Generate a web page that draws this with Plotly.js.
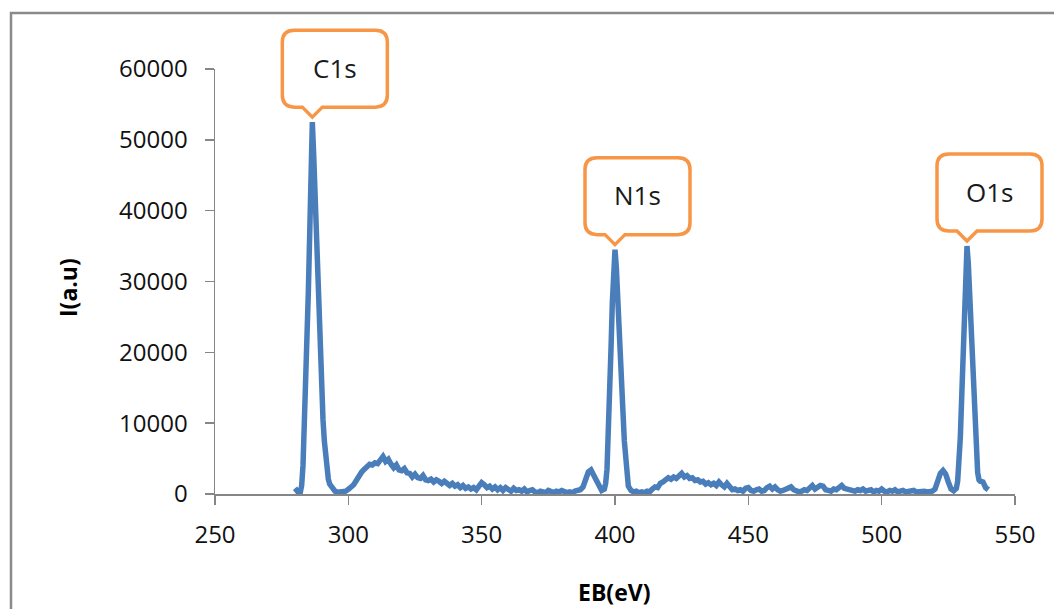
<!DOCTYPE html>
<html>
<head>
<meta charset="utf-8">
<script src="https://cdn.plot.ly/plotly-3.0.1.min.js"></script>
<style>html,body{margin:0;padding:0;background:#fff;}#chart{width:1054px;height:609px;}</style>
</head>
<body>
<div id="chart"></div>
<script>
// Binding energy (eV) and intensity (a.u.)
const energiesC1s = [280,281,282,282.5,283,283.5,284,284.5,285,285.5,286,286.5,287,287.5,288,288.5,289,289.5,290,290.5,291,291.5,292,292.5,293];
const intensC1s   = [800,350,250,1200,4000,9000,15000,21500,28500,36500,45000,52500,48000,42000,36000,30000,24000,19000,14500,10500,7500,5000,3300,2100,1400];

const energiesMid1 = [294,295,296,297,298,299,300,301,302,303,304,305,306,307,308,309,310,311,312,313,314,315,316,317,318,319,320,321,322,323,324,325,326,327,328,329,330,331,332,333,334,335,336,337,338,339,340,341,342,343,344,345,346,347,348,349,350,351,352,353,354,355,356,357,358,359,360,361,362,363,364,365,366,367,368,369,370,371,372,373,374,375,376,377,378,379,380,381,382,383,384,385,386,387,388,389,390,391,392,393,394,395];
const intensMid1   = [750,400,250,300,450,400,650,900,1300,1900,2600,3100,3500,3900,4200,4100,4400,4300,4800,5300,4600,4900,4200,3700,4100,3400,3300,3600,3000,2900,2400,2800,2300,2200,2600,2000,1900,2100,1700,2000,1800,1500,1800,1400,1200,1500,1100,1300,900,1200,800,1000,700,900,600,1100,1600,1300,900,1100,700,1000,600,900,500,900,700,400,800,500,600,400,700,300,500,600,300,200,400,300,200,500,300,200,400,300,500,300,200,300,200,400,500,600,1000,2000,3100,3400,2700,1700,900,500];

const energiesN1s = [396,396.5,397,397.5,398,398.5,399,399.5,400,400.5,401,401.5,402,402.5,403,403.5,404,404.5,405];
const intensN1s   = [700,1500,3500,8000,14000,20500,27000,32000,34500,32000,28500,24000,19500,15500,11500,7500,4500,2300,1100];

const energiesMid2 = [406,407,408,409,410,411,412,413,414,415,416,417,418,419,420,421,422,423,424,425,426,427,428,429,430,431,432,433,434,435,436,437,438,439,440,441,442,443,444,445,446,447,448,449,450,451,452,453,454,455,456,457,458,459,460,461,462,463,464,465,466,467,468,469,470,471,472,473,474,475,476,477,478,479,480,481,482,483,484,485,486,487,488,489,490,491,492,493,494,495,496,497,498,499,500,501,502,503,504,505,506,507,508,509,510,511,512,513,514,515,516,517,518,519,520,521,522,523,524,525,526,527,528];
const intensMid2   = [500,300,400,200,300,200,400,300,700,1000,900,1500,1700,2000,2300,2100,2400,2200,2700,2900,2400,2600,2200,2300,1900,2000,1700,1800,1400,1600,1300,1500,1200,1700,1300,1000,1500,900,600,700,500,600,400,800,900,500,400,600,700,400,500,900,1100,700,1000,600,400,500,700,900,1000,600,400,300,400,600,500,1000,1200,700,900,1200,1100,600,500,400,700,600,900,1200,800,700,500,600,400,600,500,700,400,500,600,300,500,400,700,400,300,500,400,600,300,400,500,300,400,300,500,300,400,300,400,300,300,400,700,1700,2900,3300,2800,1700,700,450,800];

const energiesO1s = [528.5,529,529.5,530,530.5,531,531.5,532,532.5,533,533.5,534,534.5,535,535.5,536,536.5,537,538,539,540];
const intensO1s   = [1800,4000,8000,13500,20000,26500,32000,35000,32500,28000,23000,18000,13500,9000,5500,3000,2000,1800,1700,900,600];

// Peak labels (callouts)
const peakLabels = ['C1s','N1s','O1s'];
const peakEnergies = [286.5, 400, 532];
const peakIntensities = [52500, 34500, 35000];

// Axis settings
const xTicks = [250,300,350,400,450,500,550];
const yTicks = [0,10000,20000,30000,40000,50000,60000];
const xRange = [250, 550];
const yRange = [0, 60000];

const energies = [].concat(energiesC1s, energiesMid1, energiesN1s, energiesMid2, energiesO1s);
const intensities = [].concat(intensC1s, intensMid1, intensN1s, intensMid2, intensO1s);

const W = 1054, H = 609;
const M = {l: 215, r: 39, t: 69, b: 115};
const plotW = W - M.l - M.r, plotH = H - M.t - M.b;

function toPaper(x, y) {
  return [(x - xRange[0]) / (xRange[1] - xRange[0]), (y - yRange[0]) / (yRange[1] - yRange[0])];
}

const shapes = [];
const annotations = [];

// outer chart border
shapes.push({
  type: 'rect', xref: 'paper', yref: 'paper',
  x0: (11 - M.l) / plotW, x1: (W + 10 - M.l) / plotW,
  y0: -(H + 10 - M.t - plotH) / plotH, y1: (M.t - 13 + plotH) / plotH,
  line: {color: '#8a8a8a', width: 2.5}, fillcolor: 'rgba(0,0,0,0)', layer: 'below'
});

peakLabels.forEach((lab, i) => {
  const [tx, ty0] = toPaper(peakEnergies[i], peakIntensities[i]);
  const ty = ty0 + 5 / plotH;
  const L = -30, R = 75, B = 10, T = 87, N = 10, r = 12;
  const P = (dx, dy) => (tx + dx / plotW).toFixed(5) + ',' + (ty + dy / plotH).toFixed(5);
  const path = 'M' + P(-N, B) + ' L' + P(0, 0) + ' L' + P(N, B) +
    ' L' + P(R - r, B) + ' Q' + P(R, B) + ' ' + P(R, B + r) +
    ' L' + P(R, T - r) + ' Q' + P(R, T) + ' ' + P(R - r, T) +
    ' L' + P(L + r, T) + ' Q' + P(L, T) + ' ' + P(L, T - r) +
    ' L' + P(L, B + r) + ' Q' + P(L, B) + ' ' + P(L + r, B) + ' Z';
  shapes.push({type: 'path', xref: 'paper', yref: 'paper', path: path,
    line: {color: '#F79646', width: 3.5}, fillcolor: '#ffffff', layer: 'above'});
  annotations.push({xref: 'paper', yref: 'paper',
    x: tx + ((L + R) / 2) / plotW, y: ty + ((B + T) / 2 + 1) / plotH,
    text: lab, showarrow: false, xanchor: 'center', yanchor: 'middle',
    font: {family: 'Open Sans, sans-serif', size: 26, color: '#1a1a1a'}});
});

annotations.push({xref: 'paper', yref: 'paper', x: (614 - M.l) / plotW, y: -(592 - M.t - plotH) / plotH,
  text: '<b>EB(eV)</b>', showarrow: false, xanchor: 'center', yanchor: 'middle',
  font: {family: 'Open Sans, sans-serif', size: 23, color: '#000'}});
annotations.push({xref: 'paper', yref: 'paper', x: (68 - M.l) / plotW, y: (M.t + plotH - 288) / plotH,
  text: '<b>I(a.u)</b>', showarrow: false, xanchor: 'center', yanchor: 'middle', textangle: -90,
  font: {family: 'Open Sans, sans-serif', size: 23, color: '#000'}});

const trace = {
  x: energies, y: intensities, type: 'scatter', mode: 'lines',
  line: {color: '#4A7EBB', width: 5.5}, hoverinfo: 'skip'
};

const axisCommon = {
  showgrid: false, zeroline: false, showline: true, linecolor: '#868686', linewidth: 1.5,
  ticks: 'outside', ticklen: 9, tickwidth: 1.5, tickcolor: '#868686',
  tickfont: {family: 'Open Sans, sans-serif', size: 24, color: '#111'}
};

const layout = {
  width: W, height: H, margin: M, paper_bgcolor: '#fff', plot_bgcolor: '#fff',
  showlegend: false,
  xaxis: Object.assign({}, axisCommon, {range: xRange, tickvals: xTicks, ticktext: xTicks.map(String), ticklabelstandoff: 10}),
  yaxis: Object.assign({}, axisCommon, {range: yRange, tickvals: yTicks, ticktext: yTicks.map(String), ticklabelstandoff: 12}),
  shapes: shapes, annotations: annotations
};

Plotly.newPlot('chart', [trace], layout, {displayModeBar: false, staticPlot: true});
</script>
</body>
</html>
